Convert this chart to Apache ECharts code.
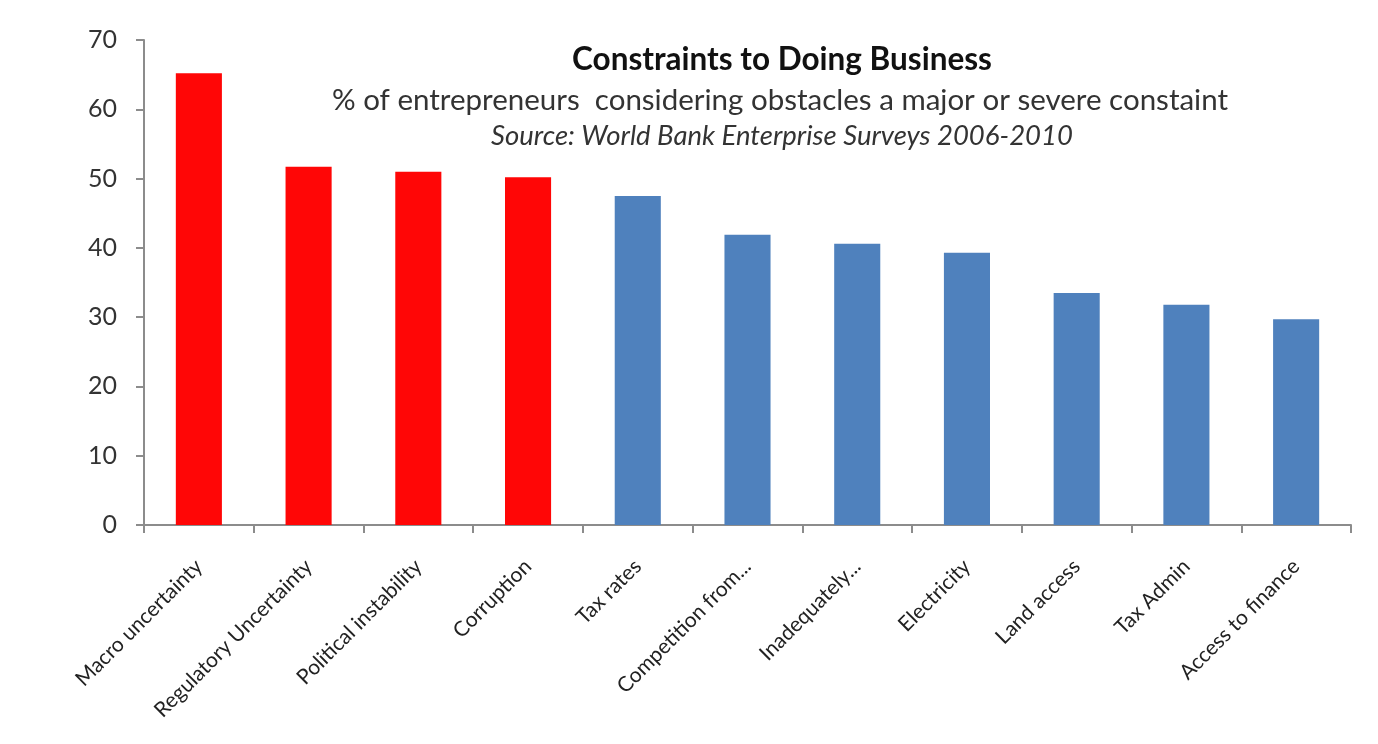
<!DOCTYPE html>
<html>
<head>
<meta charset="utf-8">
<script src="https://cdn.jsdelivr.net/npm/echarts@6/dist/echarts.min.js"></script>
<style>
html,body{margin:0;padding:0;background:#fff;}
#chart{width:1378px;height:744px;}
</style>
</head>
<body>
<div id="chart"></div>
<script>
const categories = ["Macro uncertainty","Regulatory Uncertainty","Political instability","Corruption","Tax rates","Competition from...","Inadequately...","Electricity","Land access","Tax Admin","Access to finance"];
const values = [65.2, 51.7, 51.0, 50.2, 47.5, 41.9, 40.6, 39.3, 33.5, 31.8, 29.7];
const highlighted = [true, true, true, true, false, false, false, false, false, false, false];
const yTicks = {min: 0, max: 70, interval: 10};

const RED = '#FF0606', BLUE = '#4F81BD';
const chart = echarts.init(document.getElementById('chart'));
const FONT = 'Lato, "Open Sans", sans-serif';
chart.setOption({
  backgroundColor: '#fff',
  animation: false,
  title: [
    {text: 'Constraints to Doing Business', left: 777, top: 39, textAlign: 'center',
     textStyle: {fontFamily: FONT, fontSize: 31.5, fontWeight: 'bold', color: '#111'}},
    {text: '% of entrepreneurs  considering obstacles a major or severe constaint', left: 775, top: 80, textAlign: 'center',
     textStyle: {fontFamily: FONT, fontSize: 29.5, fontWeight: 'normal', color: '#333'}},
    {text: 'Source: World Bank Enterprise Surveys 2006-2010', left: 777, top: 118, textAlign: 'center',
     textStyle: {fontFamily: FONT, fontSize: 27.5, fontStyle: 'italic', fontWeight: 'normal', color: '#333'}}
  ],
  grid: {left: 144, right: 27, top: 40, bottom: 219, containLabel: false},
  xAxis: {
    type: 'category',
    data: categories,
    axisLine: {lineStyle: {color: '#8c8c8c', width: 2}},
    axisTick: {show: true, alignWithLabel: false, length: 8, lineStyle: {color: '#8c8c8c', width: 2}},
    axisLabel: {rotate: 45, interval: 0, margin: 38, fontFamily: FONT, fontSize: 21, color: '#222'}
  },
  yAxis: {
    type: 'value',
    min: yTicks.min, max: yTicks.max, interval: yTicks.interval,
    axisLine: {show: true, lineStyle: {color: '#8c8c8c', width: 2}},
    axisTick: {show: true, length: 8, lineStyle: {color: '#8c8c8c', width: 2}},
    splitLine: {show: false},
    axisLabel: {margin: 27, fontFamily: FONT, fontSize: 25, color: '#333'}
  },
  series: [{
    type: 'bar',
    barWidth: '42%',
    data: values.map((v, i) => ({value: v, itemStyle: {color: highlighted[i] ? RED : BLUE}}))
  }]
});
</script>
</body>
</html>
